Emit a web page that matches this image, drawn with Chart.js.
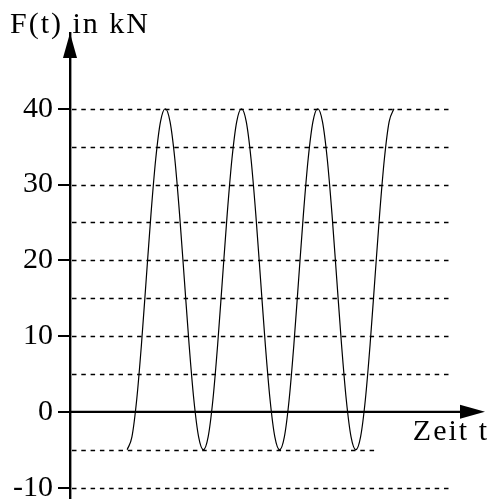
<!DOCTYPE html>
<html>
<head>
<meta charset="utf-8">
<script src="https://cdn.jsdelivr.net/npm/chart.js@4/dist/chart.umd.min.js"></script>
<style>
  html, body { margin: 0; padding: 0; background: #fff; }
  canvas { display: block; }
</style>
</head>
<body>
<canvas id="c" width="489" height="499"></canvas>
<script>
// ---- data ----
const tValues = [3, 3.25, 3.5, 3.75, 4, 4.25, 4.5, 4.75, 5, 5.25, 5.5, 5.75, 6, 6.25, 6.5, 6.75,
                 7, 7.25, 7.5, 7.75, 8, 8.25, 8.5, 8.75, 9, 9.25, 9.5, 9.75, 10, 10.25, 10.5, 10.75,
                 11, 11.25, 11.5, 11.75, 12, 12.25, 12.5, 12.75, 13, 13.25, 13.5, 13.75, 14, 14.25, 14.5, 14.75,
                 15, 15.25, 15.5, 15.75, 16, 16.25, 16.5, 16.75, 17];
const forceValues = [-5, -3.3, 1.6, 8.9, 17.5, 26.1, 33.4, 38.3, 40, 38.3, 33.4, 26.1, 17.5, 8.9, 1.6, -3.3,
                     -5, -3.3, 1.6, 8.9, 17.5, 26.1, 33.4, 38.3, 40, 38.3, 33.4, 26.1, 17.5, 8.9, 1.6, -3.3,
                     -5, -3.3, 1.6, 8.9, 17.5, 26.1, 33.4, 38.3, 40, 38.3, 33.4, 26.1, 17.5, 8.9, 1.6, -3.3,
                     -5, -3.3, 1.6, 8.9, 17.5, 26.1, 33.4, 38.3, 40];
const yTickValues = [-10, 0, 10, 20, 30, 40];
const gridLevels = [-10, -5, 5, 10, 15, 20, 25, 30, 35, 40];
const gridEnds   = [20, 16, 20, 20, 20, 20, 20, 20, 20, 20];
const yTitle = 'F(t) in kN';
const xTitle = 'Zeit t';

const FONT = '"Liberation Serif", "Times New Roman", serif';

const axesPlugin = {
  id: 'axesPlugin',
  beforeDatasetsDraw(chart) {
    const ctx = chart.ctx;
    const xs = chart.scales.x, ys = chart.scales.y;
    const ca = chart.chartArea;
    ctx.save();
    ctx.strokeStyle = '#000';
    ctx.lineWidth = 1.5;
    ctx.setLineDash([4.5, 4.8]);
    gridLevels.forEach((lv, i) => {
      const y = Math.round(ys.getPixelForValue(lv)) + 0.5;
      ctx.beginPath();
      ctx.moveTo(ca.left + 2, y);
      ctx.lineTo(xs.getPixelForValue(gridEnds[i]), y);
      ctx.stroke();
    });
    ctx.setLineDash([]);
    const y0 = ys.getPixelForValue(0);
    ctx.lineWidth = 2.2;
    ctx.beginPath();
    ctx.moveTo(ca.left, y0);
    ctx.lineTo(ca.right - 20, y0);
    ctx.stroke();
    ctx.restore();
  },
  afterDraw(chart) {
    const ctx = chart.ctx;
    const ys = chart.scales.y;
    const ca = chart.chartArea;
    const y0 = ys.getPixelForValue(0);
    ctx.save();
    ctx.fillStyle = '#000';
    ctx.beginPath();
    ctx.moveTo(ca.right, y0);
    ctx.lineTo(ca.right - 25, y0 - 7);
    ctx.lineTo(ca.right - 25, y0 + 7);
    ctx.closePath();
    ctx.fill();
    ctx.beginPath();
    ctx.moveTo(ca.left, ca.top);
    ctx.lineTo(ca.left - 7, ca.top + 25);
    ctx.lineTo(ca.left + 7, ca.top + 25);
    ctx.closePath();
    ctx.fill();
    ctx.font = '30px ' + FONT;
    ctx.textBaseline = 'alphabetic';
    if ('letterSpacing' in ctx) ctx.letterSpacing = '2px';
    ctx.textAlign = 'left';
    ctx.fillText(yTitle, 10, 33);
    ctx.textAlign = 'right';
    ctx.fillText(xTitle, 489, 440);
    ctx.restore();
  }
};

new Chart(document.getElementById('c'), {
  type: 'line',
  data: {
    datasets: [{
      data: tValues.map((t, i) => ({ x: t, y: forceValues[i] })),
      borderColor: '#000',
      borderWidth: 1.2,
      pointRadius: 0,
      fill: false,
      cubicInterpolationMode: 'monotone'
    }]
  },
  options: {
    responsive: false,
    animation: false,
    devicePixelRatio: 1,
    layout: { padding: { top: 33, right: 4, bottom: 0, left: 0 } },
    plugins: { legend: { display: false }, tooltip: { enabled: false } },
    scales: {
      x: { type: 'linear', min: 0, max: 21.78, display: false },
      y: {
        type: 'linear', min: -11.5, max: 50,
        afterBuildTicks(scale) { scale.ticks = yTickValues.map(v => ({ value: v })); },
        afterFit(scale) { scale.width = 70; scale.paddingTop = 0; scale.paddingBottom = 0; },
        border: { display: true, color: '#000', width: 2.4 },
        grid: { drawOnChartArea: false, drawTicks: true, tickLength: 12, color: '#000', lineWidth: 2 },
        ticks: {
          color: '#000', padding: 5,
          font: { family: FONT, size: 30 },
          callback: v => String(v)
        }
      }
    }
  },
  plugins: [axesPlugin]
});
</script>
</body>
</html>
